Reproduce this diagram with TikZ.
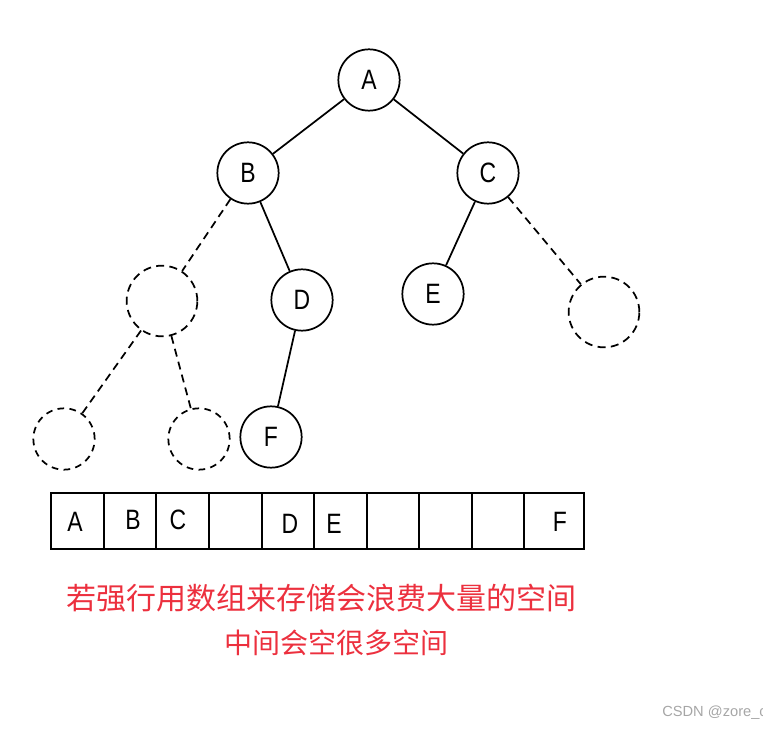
\documentclass[tikz,border=0pt]{standalone}
\usepackage{fontspec}
\newfontfamily\letterfont[FakeStretch=0.82]{Liberation Sans}
\newfontfamily\markfont{Liberation Sans}
\newfontfamily\cjk{Noto Sans CJK SC}
\usepackage{tikz}
\usetikzlibrary{positioning}

\definecolor{notered}{RGB}{236,48,62}

\tikzset{
  vert/.style={circle,draw,line width=1.3pt,minimum size=46pt,inner sep=0pt,font=\letterfont\fontsize{21}{21}\selectfont},
  ghost/.style={vert,dash pattern=on 6pt off 4pt,minimum size=53pt},
  small ghost/.style={vert,dash pattern=on 5pt off 4pt},
  edge/.style={line width=1.3pt},
  ghost edge/.style={edge,dash pattern=on 6pt off 4pt},
  cell/.style={rectangle,draw,line width=1.3pt,minimum height=42.5pt,inner sep=0pt,anchor=west},
  lbl/.style={inner sep=0pt,font=\letterfont\fontsize{21}{21}\selectfont},
}

\begin{document}
\begin{tikzpicture}[x=0.75pt,y=-0.75pt]
  \useasboundingbox (0,0) rectangle (763,730);

  % tree nodes
  \node[vert] (A) at (369,80) {A};
  \node[vert] (B) at (248,173) {B};
  \node[vert] (C) at (488,173) {C};
  \node[ghost] (Bl) at (162,301) {};
  \node[vert] (D) at (302,300) {D};
  \node[vert] (E) at (433,294) {E};
  \node[ghost] (Cr) at (604,312) {};
  \node[small ghost] (Bll) at (64,439) {};
  \node[small ghost] (Blr) at (199,439) {};
  \node[vert] (F) at (271,437) {F};

  % edges
  \draw[edge] (A) -- (B);
  \draw[edge] (A) -- (C);
  \draw[ghost edge] (B) -- (Bl);
  \draw[edge] (B) -- (D);
  \draw[edge] (C) -- (E);
  \draw[ghost edge] (C) -- (Cr);
  \draw[ghost edge] (Bl) -- (Bll);
  \draw[ghost edge] (Bl) -- (Blr);
  \draw[edge] (D) -- (F);

  % array cells
  \foreach \l/\r [count=\i] in {50/103,103/155,155/208,208/261,261/313,313/366,366/418,418/471,471/523,523/583}
    \node[cell,minimum width={(\r-\l)*0.75pt}] (c\i) at (\l,521) {};

  % array labels
  \node[lbl] (lA) at (75,522) {A};
  \node[lbl] (lB) at (133,520) {B};
  \node[lbl] (lC) at (178,520) {C};
  \node[lbl] (lD) at (290,524) {D};
  \node[lbl] (lE) at (334,524) {E};
  \node[lbl] (lF) at (560,522) {F};

  % note
  \node[text=notered,font=\cjk\fontsize{22.5}{22.5}\selectfont,inner sep=0pt] (note1) at (321,598) {若强行用数组来存储会浪费大量的空间};
  \node[text=notered,font=\cjk\fontsize{21}{21}\selectfont,inner sep=0pt] (note2) at (336,643) {中间会空很多空间};

  % watermark
  \node[text=black!35,font=\markfont\fontsize{11}{11}\selectfont,anchor=west,inner sep=0pt] (mark) at (662,713) {CSDN @zore\_c};
\end{tikzpicture}
\end{document}
